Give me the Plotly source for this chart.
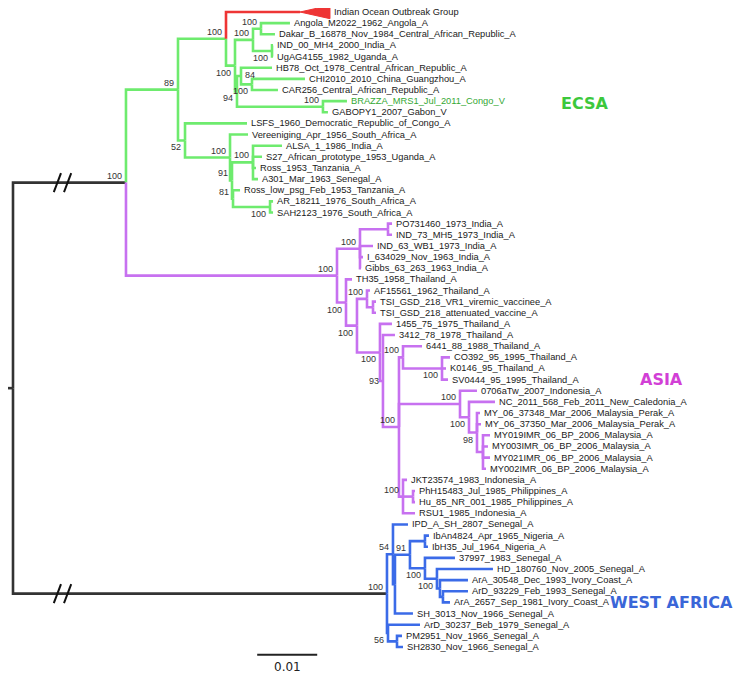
import plotly.graph_objects as go

# Newick pieces for the three genotypes (branch lengths in substitutions/site)
ECSA_NWK = (
    "((Indian Ocean Outbreak Group:0.01233,"
    "(((Angola_M2022_1962_Angola_A:0.00483,Dakar_B_16878_Nov_1984_Central_African_Republic_A:0.00233)100:0.00133,"
    "(IND_00_MH4_2000_India_A:0.00017,UgAG4155_1982_Uganda_A:0.00017)100:0.00317)100:0.003,"
    "((HB78_Oct_1978_Central_African_Republic_A:0.00517,"
    "(CHI2010_2010_China_Guangzhou_A:0.00883,CAR256_Central_African_Republic_A:0.00433)100:0.00183)84:0.00067,"
    "(BRAZZA_MRS1_Jul_2011_Congo_V:0.004,GABOPY1_2007_Gabon_V:0.00083)100:0.01433)94:0.00033)100:0.0015)100:0.008,"
    "(LSFS_1960_Democratic_Republic_of_Congo_A:0.01033,"
    "(Vereeniging_Apr_1956_South_Africa_A:0.003,"
    "((ALSA_1_1986_India_A:0.00483,S27_African_prototype_1953_Uganda_A:0.0015,"
    "Ross_1953_Tanzania_A:0.0005,A301_Mar_1963_Senegal_A:0.00083)100:0.0035,"
    "(Ross_low_psg_Feb_1953_Tanzania_A:0.00117,"
    "(AR_18211_1976_South_Africa_A:0.0005,SAH2123_1976_South_Africa_A:0.0005)100:0.00617)81:0.00017)91:0.00033)100:0.0075)52:0.00117)89:0.00867"
)

ASIA_NWK = (
    "(((PO731460_1973_India_A:0.00067,IND_73_MH5_1973_India_A:0.00067):0.00467,"
    "IND_63_WB1_1973_India_A:0.00217,I_634029_Nov_1963_India_A:0.0005,Gibbs_63_263_1963_India_A:0.00017)100:0.00383,"
    "(TH35_1958_Thailand_A:0.001,"
    "((AF15561_1962_Thailand_A:0.0005,"
    "(TSI_GSD_218_VR1_viremic_vaccinee_A:0.0005,TSI_GSD_218_attenuated_vaccine_A:0.0005):0.001)100:0.00167,"
    "(1455_75_1975_Thailand_A:0.002,"
    "(3412_78_1978_Thailand_A:0.002,"
    "((6441_88_1988_Thailand_A:0.00317,"
    "(CO392_95_1995_Thailand_A:0.00133,K0146_95_Thailand_A:0.00067,SV0444_95_1995_Thailand_A:0.001)100:0.0065)100:0.00067,"
    "(0706aTw_2007_Indonesia_A:0.00283,"
    "(NC_2011_568_Feb_2011_New_Caledonia_A:0.00433,"
    "(MY_06_37348_Mar_2006_Malaysia_Perak_A:0.0005,MY_06_37350_Mar_2006_Malaysia_Perak_A:0.00067,"
    "(MY019IMR_06_BP_2006_Malaysia_A:0.00117,MY003IMR_06_BP_2006_Malaysia_A:0.00083,"
    "MY021IMR_06_BP_2006_Malaysia_A:0.00117,MY002IMR_06_BP_2006_Malaysia_A:0.0005):0.001)98:0.00133)100:0.0015)100:0.01017,"
    "(JKT23574_1983_Indonesia_A:0.00067,"
    "(PhH15483_Jul_1985_Philippines_A:0.00033,Hu_85_NR_001_1985_Philippines_A:0.00033):0.00167,"
    "RSU1_1985_Indonesia_A:0.002)100:0.00067)100:0.00267)93:0.0005)100:0.00383)100:0.00183)100:0.0015)100:0.03517"
)

WA_NWK = (
    "((IPD_A_SH_2807_Senegal_A:0.0025,"
    "(((IbAn4824_Apr_1965_Nigeria_A:0.00067,IbH35_Jul_1964_Nigeria_A:0.0005):0.0025,"
    "(37997_1983_Senegal_A:0.005,"
    "(HD_180760_Nov_2005_Senegal_A:0.00933,"
    "(ArA_30548_Dec_1993_Ivory_Coast_A:0.00467,"
    "(ArD_93229_Feb_1993_Senegal_A:0.00417,ArA_2657_Sep_1981_Ivory_Coast_A:0.00117):0.0005):0.0005)100:0.002)100:0.0025)91:0.0025,"
    "SH_3013_Nov_1966_Senegal_A:0.003):0.00033)54:0.001,"
    "(ArD_30237_Beb_1979_Senegal_A:0.00533,"
    "(PM2951_Nov_1966_Senegal_A:0.00083,SH2830_Nov_1966_Senegal_A:0.001):0.0015)56:0.00017)100:0.06233"
)

TREE = "((" + ECSA_NWK + "," + ASIA_NWK + ")100:0.01883," + WA_NWK + ");"

# genotypes defined by two member taxa (MRCA), name, line colour, text colour
CLADES = [
    ("ECSA", "Angola_M2022_1962_Angola_A", "SAH2123_1976_South_Africa_A", "#6eeb6e", "#3cc83c"),
    ("ASIA", "PO731460_1973_India_A", "RSU1_1985_Indonesia_A", "#c771f0", "#d23fd6"),
    ("WEST AFRICA", "IPD_A_SH_2807_Senegal_A", "SH2830_Nov_1966_Senegal_A", "#3b6be8", "#3a66d8"),
]
COLLAPSED = {"Indian Ocean Outbreak Group": 0.005}
COLLAPSED_COLOR = "#ee3535"
HIGHLIGHT = {"BRAZZA_MRS1_Jul_2011_Congo_V": "#34a834"}

# bootstrap label side, preorder: a = above, b = below, m = middle, r = right
SUPPORT_POS = ["a", "a", "a", "b", "a", "a", "b", "b", "r", "b", "a", "b", "a", "a", "a", "a", "b",
               "a", "a", "b", "b", "a", "b", "m", "a", "a", "b", "a", "b", "b", "a",
               "a", "a", "a", "b", "b", "b"]

CLADE_LABEL_POS = {"ECSA": (0.0953, 8.2), "ASIA": (0.108, 33.0), "WEST AFRICA": (0.1098, 53.0)}
SCALE_BAR = 0.01
ROOT_STEM = 0.0015


def parse(s):
    pos = 0

    def node():
        nonlocal pos
        n = {"children": [], "name": "", "len": 0.0}
        if s[pos] == "(":
            pos += 1
            n["children"].append(node())
            while s[pos] == ",":
                pos += 1
                n["children"].append(node())
            pos += 1
        start = pos
        while s[pos] not in ",():;":
            pos += 1
        n["name"] = s[start:pos]
        if s[pos] == ":":
            pos += 1
            start = pos
            while s[pos] not in ",();":
                pos += 1
            n["len"] = float(s[start:pos])
        return n

    return node()


root = parse(TREE)
leaves, preorder = [], []


def layout(n, depth, parent):
    n["x"] = depth + n["len"]
    n["parent"] = parent
    preorder.append(n)
    for c in n["children"]:
        layout(c, n["x"], n)
    if n["children"]:
        n["y"] = (n["children"][0]["y"] + n["children"][-1]["y"]) / 2
        n["leafset"] = set().union(*[c["leafset"] for c in n["children"]])
    else:
        n["y"] = len(leaves)
        n["leafset"] = {n["name"]}
        leaves.append(n)


layout(root, 0.0, None)


def paint(n, col):
    n["color"] = col
    for c in n["children"]:
        paint(c, col)


paint(root, "#333333")
for name, a, b, col, _ in CLADES:
    mrca = [n for n in preorder if a in n["leafset"] and b in n["leafset"]][-1]
    paint(mrca, col)
for n in preorder:
    if n["name"] in COLLAPSED:
        n["color"] = COLLAPSED_COLOR
    n["branch_color"] = "#333333" if n["parent"] is root else n["color"]

fig = go.Figure()

# branches grouped by colour
segs = {}
for n in preorder:
    p = n["parent"]
    if p is None:
        continue
    xs, ys = segs.setdefault(n["branch_color"], ([], []))
    xs += [p["x"], p["x"], n["x"], None]
    ys += [p["y"], n["y"], n["y"], None]
xs, ys = segs.setdefault("#333333", ([], []))
xs += [-ROOT_STEM, 0, None]
ys += [root["y"], root["y"], None]

for col, (xs, ys) in segs.items():
    fig.add_trace(go.Scatter(x=xs, y=ys, mode="lines", hoverinfo="skip",
                             line=dict(color=col, width=2.6), showlegend=False))

# break marks on the two root branches
for c in root["children"]:
    for bx in (0.0074, 0.0091):
        fig.add_trace(go.Scatter(x=[bx - 0.0006, bx + 0.0006], y=[c["y"] + 0.85, c["y"] - 0.85],
                                 mode="lines", hoverinfo="skip", showlegend=False,
                                 line=dict(color="#111111", width=2)))

annotations = []
for n in leaves:
    tip = n["x"]
    if n["name"] in COLLAPSED:
        w = COLLAPSED[n["name"]]
        fig.add_trace(go.Scatter(x=[tip, tip + w, tip + w, tip], y=[n["y"], n["y"] - 0.6, n["y"] + 0.6, n["y"]],
                                 mode="lines", fill="toself", fillcolor=COLLAPSED_COLOR, hoverinfo="skip",
                                 line=dict(color=COLLAPSED_COLOR, width=1), showlegend=False))
        tip += w
    annotations.append(dict(x=tip, y=n["y"], text=n["name"], showarrow=False,
                            xanchor="left", yanchor="middle", xshift=2,
                            font=dict(family="Arial, Liberation Sans", size=9.3,
                                      color=HIGHLIGHT.get(n["name"], "#1a1a1a"))))

labelled = [n for n in preorder if n["children"] and n["name"]]
for n, side in zip(labelled, SUPPORT_POS):
    a = dict(x=n["x"], y=n["y"], text=n["name"], showarrow=False, xanchor="right", xshift=-2,
             font=dict(family="Arial, Liberation Sans", size=9, color="#333333"))
    if side == "a":
        a["yanchor"] = "bottom"
    elif side == "b":
        a["yanchor"] = "top"
    elif side == "m":
        a["yanchor"] = "middle"
    else:
        a.update(xanchor="left", xshift=2, yanchor="middle", yshift=1)
    annotations.append(a)

for name, a, b, col, tcol in CLADES:
    cx, cy = CLADE_LABEL_POS[name]
    annotations.append(dict(x=cx, y=cy, text="<b>%s</b>" % name, showarrow=False,
                            font=dict(family="Verdana, DejaVu Sans", size=16, color=tcol)))

# scale bar
sx, sy = 0.0407, 57.7
fig.add_trace(go.Scatter(x=[sx, sx + SCALE_BAR], y=[sy, sy], mode="lines", hoverinfo="skip",
                         line=dict(color="#222222", width=2), showlegend=False))
annotations.append(dict(x=sx + SCALE_BAR / 2, y=58.8, text=str(SCALE_BAR), showarrow=False,
                        yanchor="middle",
                        font=dict(family="Verdana, DejaVu Sans", size=12, color="#222222")))

# the page body keeps an 8px margin, so the figure is 8px smaller and the axes
# are set so that data lands at the same window pixels as in the reference
PX, ROW, PAGE_PAD = 6000.0, 11.14, 8
fig.update_layout(
    width=746 - 2 * PAGE_PAD, height=675 - PAGE_PAD, autosize=False,
    margin=dict(l=0, r=0, t=0, b=0),
    plot_bgcolor="white", paper_bgcolor="white",
    xaxis=dict(range=[(PAGE_PAD - 13) / PX, (746 - PAGE_PAD - 13) / PX], visible=False),
    yaxis=dict(range=[(675 - 12) / ROW, (PAGE_PAD - 12) / ROW], visible=False),
    annotations=annotations,
    showlegend=False,
)

fig.write_html("out.html")
